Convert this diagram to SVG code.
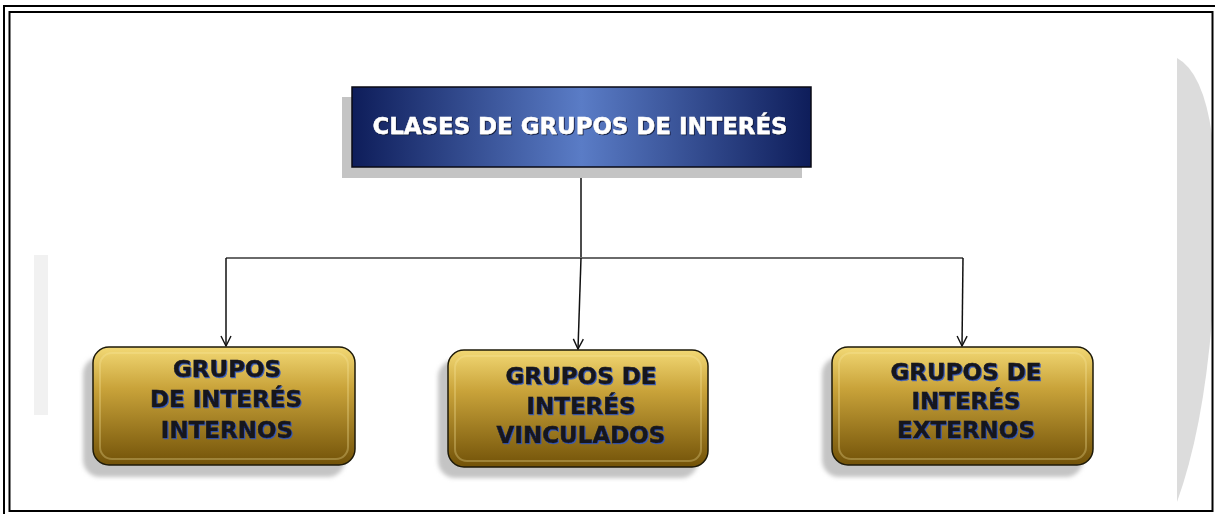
<svg xmlns="http://www.w3.org/2000/svg" width="1215" height="514" viewBox="0 0 1215 514">
  <defs>
    <style>
      .frame { fill: none; stroke: #000; }
      .title { font-family: "DejaVu Sans", "Liberation Sans", sans-serif; font-weight: bold; font-size: 23px; fill: #ffffff; stroke: #ffffff; stroke-width: 0.4; text-anchor: middle; }
      .lbl { font-family: "DejaVu Sans", "Liberation Sans", sans-serif; font-weight: bold; font-size: 23px; fill: #14141c; stroke: #14141c; stroke-width: 0.5; text-anchor: middle; }
      .gbox { fill: url(#gold); stroke: #1e1a08; stroke-width: 1.5; }
      .ghi { fill: none; stroke: #f8e8a0; stroke-opacity: 0.3; stroke-width: 2; }
      .shadow { fill: #c4c4c4; }
      .conn { fill: none; stroke: #111; stroke-width: 1.5; }
      .bar { fill: none; stroke: #6a6a6a; stroke-width: 2; }
    </style>
    <linearGradient id="navy" x1="0" y1="0" x2="1" y2="0">
      <stop offset="0" stop-color="#0e1d5a"/>
      <stop offset="0.5" stop-color="#5a7cc6"/>
      <stop offset="1" stop-color="#0e1d5a"/>
    </linearGradient>
    <linearGradient id="gold" x1="0" y1="0" x2="0" y2="1">
      <stop offset="0" stop-color="#f2d874"/>
      <stop offset="0.35" stop-color="#c9a33a"/>
      <stop offset="1" stop-color="#725208"/>
    </linearGradient>
    <filter id="blur" x="-10%" y="-10%" width="120%" height="130%">
      <feGaussianBlur stdDeviation="2"/>
    </filter>
    <filter id="tglowB" x="-5%" y="-20%" width="110%" height="150%">
      <feDropShadow dx="1" dy="1" stdDeviation="0.7" flood-color="#2f56c8" flood-opacity="0.9"/>
    </filter>
    <filter id="tglowW" x="-5%" y="-20%" width="110%" height="150%">
      <feDropShadow dx="1" dy="1" stdDeviation="0.7" flood-color="#101838" flood-opacity="0.9"/>
    </filter>
    <marker id="arr" viewBox="0 0 12 12" refX="11" refY="6" markerWidth="12" markerHeight="12" markerUnits="userSpaceOnUse" orient="auto">
      <path d="M1,1 L11,6 L1,11" fill="none" stroke="#111" stroke-width="1.4"/>
    </marker>
  </defs>

  <rect width="1215" height="514" fill="#ffffff"/>

  <!-- faint background shapes -->
  <path d="M1177,58 Q1203,72 1212,135 L1212,320 Q1203,430 1177,502 Z" fill="#dcdcdc"/>
  <rect x="34" y="255" width="14" height="160" fill="#f1f1f1"/>

  <!-- frame -->
  <g id="frame">
    <rect class="frame" x="4" y="6" width="1215" height="512" stroke-width="2"/>
    <rect class="frame" x="9.5" y="12" width="1203" height="499" stroke-width="2"/>
  </g>

  <!-- connectors -->
  <g id="connectors">
    <line class="conn" x1="581" y1="167" x2="581" y2="258"/>
    <line class="bar" x1="226" y1="258" x2="963" y2="258"/>
    <line class="conn" x1="226" y1="258" x2="226" y2="346" marker-end="url(#arr)"/>
    <line class="conn" x1="581" y1="258" x2="578" y2="349" marker-end="url(#arr)"/>
    <line class="conn" x1="963" y1="258" x2="962" y2="346" marker-end="url(#arr)"/>
  </g>

  <!-- top node -->
  <g id="node-clases">
    <rect class="shadow" x="342" y="97" width="460" height="81"/>
    <rect x="352" y="87" width="459" height="80" fill="url(#navy)" stroke="#0a0a14" stroke-width="1.5"/>
    <text class="title" x="580" y="134" textLength="415" lengthAdjust="spacingAndGlyphs" filter="url(#tglowW)">CLASES DE GRUPOS DE INTERÉS</text>
  </g>

  <!-- internos -->
  <g id="node-internos">
    <rect class="shadow" x="83" y="357" width="262" height="120" rx="17" filter="url(#blur)"/>
    <rect class="gbox" x="93" y="347" width="262" height="118" rx="16"/>
    <rect class="ghi" x="100" y="353" width="248" height="106" rx="12"/>
    <g filter="url(#tglowB)">
      <text class="lbl" x="227" y="377">GRUPOS</text>
      <text class="lbl" x="226" y="407">DE INTERÉS</text>
      <text class="lbl" x="227" y="438">INTERNOS</text>
    </g>
  </g>

  <!-- vinculados -->
  <g id="node-vinculados">
    <rect class="shadow" x="438" y="360" width="260" height="118" rx="17" filter="url(#blur)"/>
    <rect class="gbox" x="448" y="350" width="260" height="117" rx="16"/>
    <rect class="ghi" x="455" y="356" width="246" height="105" rx="12"/>
    <g filter="url(#tglowB)">
      <text class="lbl" x="581" y="384">GRUPOS DE</text>
      <text class="lbl" x="581" y="414">INTERÉS</text>
      <text class="lbl" x="581" y="443">VINCULADOS</text>
    </g>
  </g>

  <!-- externos -->
  <g id="node-externos">
    <rect class="shadow" x="822" y="357" width="261" height="120" rx="17" filter="url(#blur)"/>
    <rect class="gbox" x="832" y="347" width="261" height="118" rx="16"/>
    <rect class="ghi" x="839" y="353" width="247" height="106" rx="12"/>
    <g filter="url(#tglowB)">
      <text class="lbl" x="966" y="380">GRUPOS DE</text>
      <text class="lbl" x="966" y="409">INTERÉS</text>
      <text class="lbl" x="966" y="438">EXTERNOS</text>
    </g>
  </g>
</svg>
